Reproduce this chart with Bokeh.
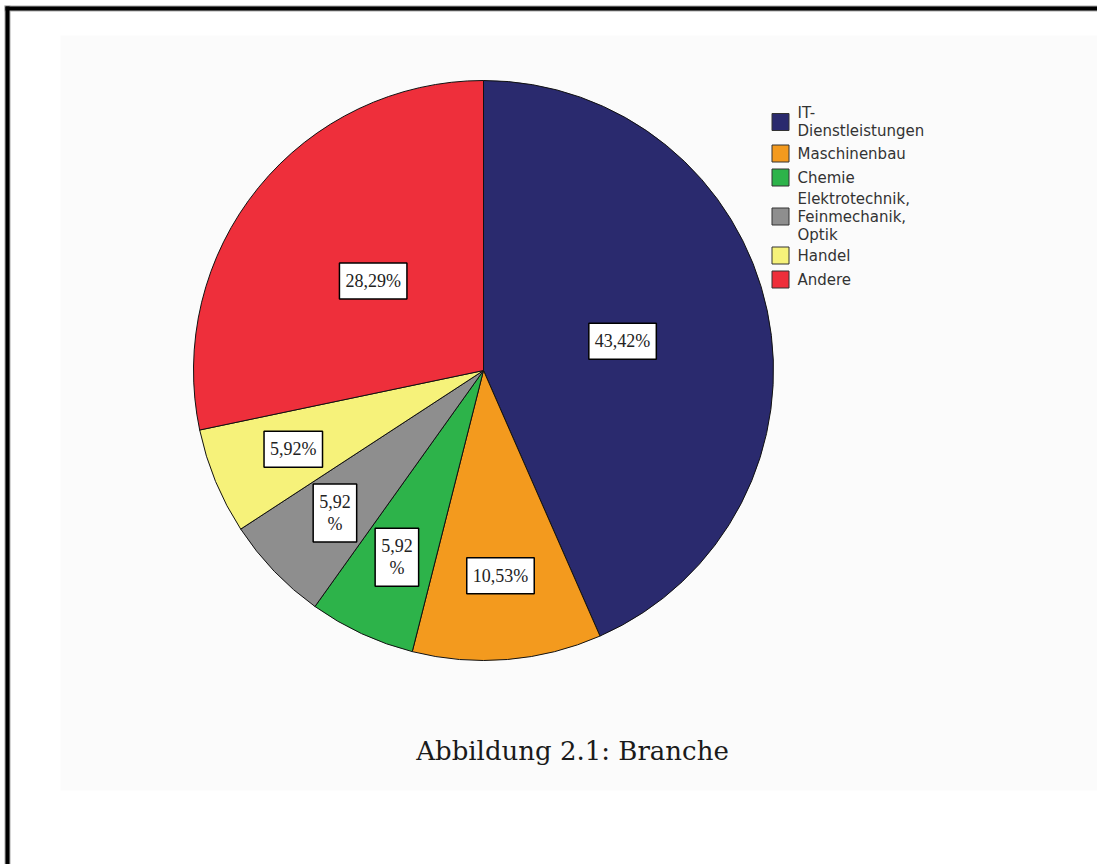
import numpy as np
from bokeh.plotting import figure
from bokeh.models import ColumnDataSource, Range1d
from bokeh.embed import file_html
from bokeh.resources import INLINE
from bokeh.core.properties import value

# ---- data ----
categories = ["IT-\nDienstleistungen", "Maschinenbau", "Chemie",
              "Elektrotechnik,\nFeinmechanik,\nOptik", "Handel", "Andere"]
shares = [43.42, 10.53, 5.92, 5.92, 5.92, 28.29]
slice_labels = ["43,42%", "10,53%", "5,92\n%", "5,92\n%", "5,92%", "28,29%"]
colors = ["#2a2a6e", "#f39a1e", "#2db34a", "#8e8e8e", "#f6f27a", "#ee2f3b"]
caption = "Abbildung 2.1: Branche"

W, H = 1097, 864


def sy(y):
    return H - np.asarray(y, dtype=float)


p = figure(width=W, height=H, x_range=Range1d(0, W), y_range=Range1d(0, H),
           output_backend="svg", toolbar_location=None, min_border=0)
p.axis.visible = False
p.grid.visible = False
p.outline_line_color = None
p.background_fill_color = "white"
p.border_fill_color = "white"

# page panel
p.quad(left=60, right=W, top=sy(35), bottom=sy(790), fill_color="#fbfbfb", line_color=None)
# frame (top and left)
p.quad(left=[4, 4], right=[10, W], top=[sy(5), sy(5)], bottom=[0, sy(11)],
       fill_color="#aaaaaa", line_color=None)
p.quad(left=[5, 5], right=[9, W], top=[sy(6), sy(6)], bottom=[0, sy(10)],
       fill_color="black", line_color=None)

# ---- pie ----
cx, cy, R = 483, float(sy(370)), 290
frac = np.array(shares) / sum(shares)
cum = np.concatenate([[0], np.cumsum(frac)])
start = np.pi / 2 - 2 * np.pi * cum[:-1]
end = np.pi / 2 - 2 * np.pi * cum[1:]
mid = (start + end) / 2
src = ColumnDataSource(dict(start=start, end=end, color=colors))
p.wedge(x=cx, y=cy, radius=R, start_angle="start", end_angle="end", direction="clock",
        fill_color="color", line_color="#111111", line_width=1, source=src)

rf = np.where(frac > 0.2, 0.49, 0.71)
lx = cx + R * rf * np.cos(mid)
ly = cy + R * rf * np.sin(mid)
p.text(x=lx, y=ly, text=slice_labels, text_font=value("Liberation Serif"),
       text_font_size="18px", text_align="center", text_baseline="middle",
       text_color="#222222", text_line_height=1.1,
       background_fill_color="white", border_line_color="black",
       border_line_width=1.5, padding=dict(left=6, right=6, top=8, bottom=8))

# ---- legend ----
nlines = np.array([c.count("\n") + 1 for c in categories])
heights = 15 * nlines + 9
top = 102
centers = top + np.cumsum(heights) - heights / 2
p.rect(x=780, y=sy(centers), width=17, height=17, fill_color=colors,
       line_color="#333333", line_width=1)
p.text(x=797, y=sy(centers), text=categories, text_font=value("DejaVu Sans"),
       text_font_size="15px", text_align="left", text_baseline="middle",
       text_line_height=1.0, text_color="#333333")

# ---- caption ----
p.text(x=[572], y=[float(sy(750))], text=[caption], text_font=value("DejaVu Serif"),
       text_font_size="26px", text_align="center", text_baseline="alphabetic",
       text_color="#1a1a1a")

open("out.html", "w").write(file_html(p, INLINE))
